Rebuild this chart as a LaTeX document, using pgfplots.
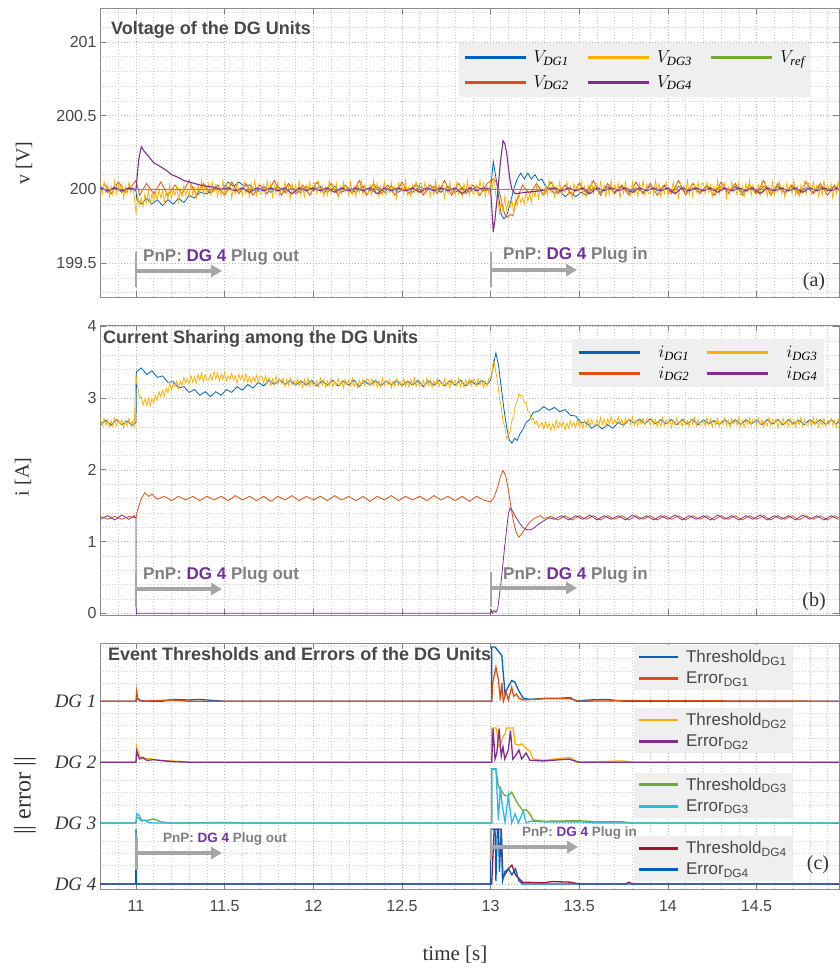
\documentclass[border=0pt]{standalone}
\usepackage{pgfplots}
\usepackage{pgfplotstable}
\pgfplotsset{compat=1.18}
\usepackage{fontspec}
\setmainfont{Liberation Serif}
\setsansfont{Liberation Sans}
\usetikzlibrary{arrows.meta}

\definecolor{mblue}{HTML}{0062BE}
\definecolor{morange}{HTML}{DD5014}
\definecolor{myellow}{HTML}{FBB000}
\definecolor{mpurple}{HTML}{7E2F8E}
\definecolor{mgreen}{HTML}{72AA2F}
\definecolor{mcyan}{HTML}{2DB6EE}
\definecolor{mred}{HTML}{A2142F}
\definecolor{agray}{HTML}{A6A6A6}
\definecolor{tgray}{HTML}{7F7F7F}
\definecolor{dgpurple}{HTML}{7030A0}
\definecolor{legfill}{HTML}{EFEFEF}

% ---------------- panel (a) data ----------------
\pgfplotstableread[row sep=\\]{t v\\
10.80 200.04\\10.81 199.97\\10.82 200.05\\10.83 199.98\\10.84 200.03\\10.85 199.95\\10.86 200.02\\10.87 199.96\\10.88 200.06\\10.89 199.97\\10.90 200.03\\10.91 199.99\\10.92 200.04\\10.93 199.94\\10.94 200.02\\10.95 199.97\\10.96 200.05\\10.97 199.98\\10.98 200.01\\10.99 199.96\\
11.00 199.84\\11.005 199.88\\11.01 199.96\\11.02 199.89\\11.03 199.94\\11.04 199.88\\11.05 199.97\\11.06 199.91\\11.07 200.00\\11.08 199.90\\11.09 199.97\\11.10 199.92\\11.11 199.99\\11.12 199.92\\11.13 200.00\\11.14 199.94\\11.15 199.99\\11.16 199.91\\11.17 199.98\\11.18 199.93\\11.19 200.03\\11.20 199.94\\11.21 200.00\\11.22 199.96\\11.23 200.02\\11.24 199.92\\11.25 200.00\\11.26 199.95\\11.27 200.03\\11.28 199.96\\11.29 200.00\\11.30 199.95\\11.31 200.04\\11.32 199.96\\11.33 200.01\\11.34 199.94\\11.35 200.03\\11.36 199.97\\11.37 200.06\\11.38 199.96\\11.39 200.03\\11.40 199.97\\
11.41 200.04\\11.42 199.97\\11.43 200.05\\11.44 199.98\\11.45 200.03\\11.46 199.95\\11.47 200.02\\11.48 199.96\\11.49 200.06\\11.50 199.97\\11.51 200.03\\11.52 199.99\\11.53 200.04\\11.54 199.94\\11.55 200.02\\11.56 199.97\\11.57 200.05\\11.58 199.98\\11.59 200.01\\11.60 199.96\\11.61 200.05\\11.62 199.97\\11.63 200.02\\11.64 199.95\\11.65 200.04\\11.66 199.98\\11.67 200.06\\11.68 199.96\\11.69 200.03\\11.70 199.97\\
11.71 199.97\\11.72 200.03\\11.73 199.96\\11.74 200.06\\11.75 199.98\\11.76 200.04\\11.77 199.95\\11.78 200.02\\11.79 199.97\\11.80 200.05\\11.81 199.96\\11.82 200.01\\11.83 199.98\\11.84 200.05\\11.85 199.97\\11.86 200.02\\11.87 199.94\\11.88 200.04\\11.89 199.99\\11.90 200.03\\11.91 199.97\\11.92 200.06\\11.93 199.96\\11.94 200.02\\11.95 199.95\\11.96 200.03\\11.97 199.98\\11.98 200.05\\11.99 199.97\\12.00 200.04\\
12.01 200.04\\12.02 199.97\\12.03 200.05\\12.04 199.98\\12.05 200.03\\12.06 199.95\\12.07 200.02\\12.08 199.96\\12.09 200.06\\12.10 199.97\\12.11 200.03\\12.12 199.99\\12.13 200.04\\12.14 199.94\\12.15 200.02\\12.16 199.97\\12.17 200.05\\12.18 199.98\\12.19 200.01\\12.20 199.96\\12.21 200.05\\12.22 199.97\\12.23 200.02\\12.24 199.95\\12.25 200.04\\12.26 199.98\\12.27 200.06\\12.28 199.96\\12.29 200.03\\12.30 199.97\\
12.31 199.97\\12.32 200.03\\12.33 199.96\\12.34 200.06\\12.35 199.98\\12.36 200.04\\12.37 199.95\\12.38 200.02\\12.39 199.97\\12.40 200.05\\12.41 199.96\\12.42 200.01\\12.43 199.98\\12.44 200.05\\12.45 199.97\\12.46 200.02\\12.47 199.94\\12.48 200.04\\12.49 199.99\\12.50 200.03\\12.51 199.97\\12.52 200.06\\12.53 199.96\\12.54 200.02\\12.55 199.95\\12.56 200.03\\12.57 199.98\\12.58 200.05\\12.59 199.97\\12.60 200.04\\
12.61 200.04\\12.62 199.97\\12.63 200.05\\12.64 199.98\\12.65 200.03\\12.66 199.95\\12.67 200.02\\12.68 199.96\\12.69 200.06\\12.70 199.97\\12.71 200.03\\12.72 199.99\\12.73 200.04\\12.74 199.94\\12.75 200.02\\12.76 199.97\\12.77 200.05\\12.78 199.98\\12.79 200.01\\12.80 199.96\\12.81 200.05\\12.82 199.97\\12.83 200.02\\12.84 199.95\\12.85 200.04\\12.86 199.98\\12.87 200.06\\12.88 199.96\\12.89 200.03\\12.90 199.97\\
12.91 199.97\\12.92 200.03\\12.93 199.96\\12.94 200.06\\12.95 199.98\\12.96 200.04\\12.97 199.95\\12.98 200.02\\12.99 199.97\\
13.00 200.05\\13.01 200.01\\13.02 200.08\\13.03 199.95\\13.04 199.95\\13.05 199.84\\13.06 199.91\\13.07 199.85\\13.08 199.95\\13.09 199.86\\13.10 199.92\\13.11 199.88\\13.12 199.93\\13.13 199.84\\13.14 199.93\\13.15 199.89\\13.16 199.97\\13.17 199.91\\13.18 199.94\\13.19 199.90\\13.20 199.99\\13.21 199.92\\13.22 199.97\\13.23 199.91\\13.24 200.00\\13.25 199.95\\13.26 200.03\\13.27 199.94\\13.28 200.01\\13.29 199.96\\
13.30 199.96\\13.31 200.03\\13.32 199.96\\13.33 200.06\\13.34 199.98\\13.35 200.04\\13.36 199.95\\13.37 200.02\\13.38 199.97\\13.39 200.05\\13.40 199.96\\13.41 200.01\\13.42 199.98\\13.43 200.05\\13.44 199.97\\13.45 200.02\\13.46 199.94\\13.47 200.04\\13.48 199.99\\13.49 200.03\\13.50 199.97\\13.51 200.06\\13.52 199.96\\13.53 200.02\\13.54 199.95\\13.55 200.03\\13.56 199.98\\13.57 200.05\\13.58 199.97\\13.59 200.04\\
13.60 200.04\\13.61 199.97\\13.62 200.05\\13.63 199.98\\13.64 200.03\\13.65 199.95\\13.66 200.02\\13.67 199.96\\13.68 200.06\\13.69 199.97\\13.70 200.03\\13.71 199.99\\13.72 200.04\\13.73 199.94\\13.74 200.02\\13.75 199.97\\13.76 200.05\\13.77 199.98\\13.78 200.01\\13.79 199.96\\13.80 200.05\\13.81 199.97\\13.82 200.02\\13.83 199.95\\13.84 200.04\\13.85 199.98\\13.86 200.06\\13.87 199.96\\13.88 200.03\\13.89 199.97\\
13.90 199.97\\13.91 200.03\\13.92 199.96\\13.93 200.06\\13.94 199.98\\13.95 200.04\\13.96 199.95\\13.97 200.02\\13.98 199.97\\13.99 200.05\\14.00 199.96\\14.01 200.01\\14.02 199.98\\14.03 200.05\\14.04 199.97\\14.05 200.02\\14.06 199.94\\14.07 200.04\\14.08 199.99\\14.09 200.03\\14.10 199.97\\14.11 200.06\\14.12 199.96\\14.13 200.02\\14.14 199.95\\14.15 200.03\\14.16 199.98\\14.17 200.05\\14.18 199.97\\14.19 200.04\\
14.20 200.04\\14.21 199.97\\14.22 200.05\\14.23 199.98\\14.24 200.03\\14.25 199.95\\14.26 200.02\\14.27 199.96\\14.28 200.06\\14.29 199.97\\14.30 200.03\\14.31 199.99\\14.32 200.04\\14.33 199.94\\14.34 200.02\\14.35 199.97\\14.36 200.05\\14.37 199.98\\14.38 200.01\\14.39 199.96\\14.40 200.05\\14.41 199.97\\14.42 200.02\\14.43 199.95\\14.44 200.04\\14.45 199.98\\14.46 200.06\\14.47 199.96\\14.48 200.03\\14.49 199.97\\
14.50 199.97\\14.51 200.03\\14.52 199.96\\14.53 200.06\\14.54 199.98\\14.55 200.04\\14.56 199.95\\14.57 200.02\\14.58 199.97\\14.59 200.05\\14.60 199.96\\14.61 200.01\\14.62 199.98\\14.63 200.05\\14.64 199.97\\14.65 200.02\\14.66 199.94\\14.67 200.04\\14.68 199.99\\14.69 200.03\\14.70 199.97\\14.71 200.06\\14.72 199.96\\14.73 200.02\\14.74 199.95\\14.75 200.03\\14.76 199.98\\14.77 200.05\\14.78 199.97\\14.79 200.04\\
14.80 200.04\\14.81 199.97\\14.82 200.05\\14.83 199.98\\14.84 200.03\\14.85 199.95\\14.86 200.02\\14.87 199.96\\14.88 200.06\\14.89 199.97\\14.90 200.03\\14.91 199.99\\14.92 200.04\\14.93 199.94\\14.94 200.02\\14.95 199.97\\14.96 200.05\\14.97 199.98\\
}\ya

\pgfplotstableread[row sep=\\]{t v\\
10.80 200.02\\10.84 199.98\\10.88 200.02\\10.92 199.98\\10.96 200.01\\11.00 199.99\\11.005 199.93\\11.03 199.90\\11.06 199.94\\11.09 199.90\\11.12 199.93\\11.15 199.89\\11.18 199.93\\11.21 199.90\\11.24 199.94\\11.27 199.91\\11.30 199.96\\11.33 199.94\\11.36 199.98\\11.40 199.97\\11.44 200.01\\11.48 199.99\\11.52 200.05\\11.55 200.02\\11.58 200.05\\11.61 200.02\\11.64 200.03\\11.68 199.98\\11.72 200.02\\11.76 199.98\\
11.80 200.02\\11.84 199.98\\11.88 200.01\\11.92 199.98\\11.96 200.02\\12.00 199.99\\12.04 200.02\\12.08 199.98\\12.12 200.02\\12.16 199.98\\12.20 200.01\\12.24 199.98\\12.28 200.02\\12.32 199.99\\12.36 200.02\\12.40 199.98\\12.44 200.02\\12.48 199.98\\12.52 200.01\\12.56 199.98\\12.60 200.02\\12.64 199.99\\12.68 200.02\\12.72 199.98\\12.76 200.02\\12.80 199.98\\12.84 200.01\\12.88 199.98\\12.92 200.02\\12.96 199.99\\
13.00 200.00\\13.015 200.19\\13.03 200.08\\13.045 199.95\\13.06 199.83\\13.075 199.80\\13.09 199.82\\13.11 199.90\\13.13 200.00\\13.15 200.07\\13.17 200.11\\13.19 200.07\\13.21 200.11\\13.23 200.07\\13.25 200.10\\13.27 200.06\\13.29 200.07\\13.31 200.02\\13.33 200.01\\13.36 199.97\\13.39 199.99\\13.42 199.95\\13.45 199.98\\13.48 199.95\\13.51 199.98\\13.54 199.96\\13.58 200.01\\13.62 199.98\\
13.66 200.02\\13.70 199.98\\13.74 200.02\\13.78 199.98\\13.82 200.01\\13.86 199.98\\13.90 200.02\\13.94 199.99\\13.98 200.02\\14.02 199.98\\14.06 200.02\\14.10 199.98\\14.14 200.01\\14.18 199.98\\14.22 200.02\\14.26 199.99\\14.30 200.02\\14.34 199.98\\14.38 200.02\\14.42 199.98\\14.46 200.01\\14.50 199.98\\14.54 200.02\\14.58 199.99\\14.62 200.02\\14.66 199.98\\14.70 200.02\\14.74 199.98\\14.78 200.01\\14.82 199.98\\14.86 200.02\\14.90 199.99\\14.94 200.02\\14.98 199.98\\
}\ba

\pgfplotstableread[row sep=\\]{t v\\
10.82 200.04\\10.86 199.97\\10.90 200.05\\10.94 199.98\\10.98 200.03\\11.00 200.06\\11.02 199.96\\11.06 200.04\\11.10 199.97\\11.14 200.05\\11.18 199.96\\11.22 200.03\\11.26 199.97\\11.30 200.06\\11.34 199.96\\11.38 200.04\\11.42 199.97\\11.46 200.03\\11.50 199.96\\11.54 200.05\\11.58 199.97\\11.62 200.04\\11.66 199.96\\11.70 200.03\\11.74 199.97\\11.78 200.06\\11.82 199.96\\11.86 200.04\\11.90 199.97\\11.94 200.03\\
11.98 199.96\\12.02 200.05\\12.06 199.97\\12.10 200.04\\12.14 199.96\\12.18 200.03\\12.22 199.97\\12.26 200.06\\12.30 199.96\\12.34 200.04\\12.38 199.97\\12.42 200.03\\12.46 199.96\\12.50 200.05\\12.54 199.97\\12.58 200.04\\12.62 199.96\\12.66 200.03\\12.70 199.97\\12.74 200.06\\12.78 199.96\\12.82 200.04\\12.86 199.97\\12.90 200.03\\12.94 199.96\\12.98 200.04\\
13.015 200.07\\13.035 200.05\\13.05 199.98\\13.065 199.90\\13.08 199.83\\13.095 199.81\\13.11 199.83\\13.125 199.82\\13.14 199.90\\13.16 199.97\\13.18 200.03\\13.22 199.97\\13.26 200.04\\13.30 199.96\\13.34 200.05\\13.38 199.97\\13.42 200.03\\13.46 199.96\\13.50 200.04\\13.54 199.97\\13.58 200.06\\13.62 199.96\\13.66 200.04\\13.70 199.97\\13.74 200.03\\13.78 199.96\\13.82 200.05\\13.86 199.97\\13.90 200.04\\13.94 199.96\\13.98 200.03\\
14.02 199.97\\14.06 200.06\\14.10 199.96\\14.14 200.04\\14.18 199.97\\14.22 200.03\\14.26 199.96\\14.30 200.05\\14.34 199.97\\14.38 200.04\\14.42 199.96\\14.46 200.03\\14.50 199.97\\14.54 200.06\\14.58 199.96\\14.62 200.04\\14.66 199.97\\14.70 200.03\\14.74 199.96\\14.78 200.05\\14.82 199.97\\14.86 200.04\\14.90 199.96\\14.94 200.03\\14.98 199.97\\
}\oa

\pgfplotstableread[row sep=\\]{t v\\
10.80 200.01\\10.84 199.99\\10.88 200.01\\10.92 199.99\\10.96 200.01\\11.00 200.00\\11.015 200.20\\11.03 200.29\\11.045 200.26\\11.06 200.24\\11.08 200.21\\11.10 200.18\\11.13 200.16\\11.17 200.13\\11.20 200.10\\11.24 200.08\\11.27 200.06\\11.30 200.05\\11.33 200.04\\11.36 200.03\\11.40 200.02\\11.44 200.015\\11.48 200.00\\11.52 200.01\\11.56 199.99\\11.60 200.01\\11.64 199.98\\11.68 200.01\\11.72 199.99\\
11.76 200.01\\11.80 199.99\\11.84 200.01\\11.88 199.97\\11.92 200.01\\11.96 199.99\\12.00 200.01\\12.04 199.99\\12.08 200.01\\12.12 199.98\\12.16 200.01\\12.20 199.99\\12.24 200.01\\12.28 199.99\\12.32 200.01\\12.36 199.97\\12.40 200.01\\12.44 199.99\\12.48 200.01\\12.52 199.99\\12.56 200.01\\12.60 199.98\\12.64 200.01\\12.68 199.99\\12.72 200.01\\12.76 199.99\\12.80 200.01\\12.84 199.97\\12.88 200.01\\12.92 199.99\\12.96 200.01\\
13.00 200.00\\13.008 199.85\\13.015 199.71\\13.025 199.80\\13.04 199.98\\13.055 200.18\\13.07 200.33\\13.08 200.31\\13.09 200.25\\13.10 200.15\\13.11 200.06\\13.12 200.00\\13.14 199.97\\13.17 199.975\\13.20 199.98\\13.24 199.985\\13.28 199.99\\13.32 200.00\\13.36 200.01\\13.40 199.99\\13.44 200.01\\13.48 199.99\\13.52 200.01\\13.56 199.97\\13.60 200.01\\13.64 199.99\\13.68 200.01\\13.72 199.99\\13.76 200.01\\13.80 199.98\\
13.84 200.01\\13.88 199.99\\13.92 200.01\\13.96 199.99\\14.00 200.01\\14.04 199.97\\14.08 200.01\\14.12 199.99\\14.16 200.01\\14.20 199.99\\14.24 200.01\\14.28 199.98\\14.32 200.01\\14.36 199.99\\14.40 200.01\\14.44 199.99\\14.48 200.01\\14.52 199.97\\14.56 200.01\\14.60 199.99\\14.64 200.01\\14.68 199.99\\14.72 200.01\\14.76 199.98\\14.80 200.01\\14.84 199.99\\14.88 200.01\\14.92 199.99\\14.96 200.01\\
}\pa

% ---------------- panel (b) data ----------------
\pgfplotstableread[row sep=\\]{t v\\
10.80 2.705\\10.81 2.615\\10.82 2.715\\10.83 2.625\\10.84 2.695\\10.85 2.595\\10.86 2.685\\10.87 2.605\\10.88 2.725\\10.89 2.615\\10.90 2.695\\10.91 2.635\\10.92 2.705\\10.93 2.585\\10.94 2.685\\10.95 2.615\\10.96 2.715\\10.97 2.625\\10.98 2.675\\10.99 2.605\\
11.00 3.35\\11.005 3.20\\11.01 3.16\\11.02 3.00\\11.03 3.02\\11.04 2.90\\11.05 2.99\\11.06 2.90\\11.07 3.00\\11.08 2.89\\11.09 2.995\\11.10 2.93\\11.11 3.04\\11.12 2.97\\11.13 3.09\\11.14 3.02\\11.15 3.11\\11.16 3.03\\11.17 3.14\\11.18 3.07\\11.19 3.21\\11.20 3.11\\11.21 3.21\\11.22 3.16\\11.23 3.24\\11.24 3.13\\11.25 3.24\\11.26 3.18\\11.27 3.29\\11.28 3.21\\11.29 3.27\\11.30 3.20\\11.31 3.32\\11.32 3.22\\11.33 3.30\\11.34 3.21\\11.35 3.33\\11.36 3.25\\11.37 3.35\\11.38 3.23\\11.39 3.33\\11.40 3.25\\
11.41 3.25\\11.42 3.33\\11.43 3.25\\11.44 3.37\\11.45 3.27\\11.46 3.35\\11.47 3.24\\11.48 3.33\\11.49 3.26\\11.50 3.36\\11.51 3.24\\11.52 3.31\\11.53 3.26\\11.54 3.35\\11.55 3.25\\11.56 3.31\\11.57 3.21\\11.58 3.33\\11.59 3.26\\11.60 3.32\\11.61 3.23\\11.62 3.34\\11.63 3.22\\11.64 3.30\\11.65 3.21\\11.66 3.30\\11.67 3.23\\11.68 3.32\\11.69 3.22\\11.70 3.31\\
11.71 3.30\\11.72 3.21\\11.73 3.31\\11.74 3.22\\11.75 3.29\\11.76 3.18\\11.77 3.27\\11.78 3.19\\11.79 3.31\\11.80 3.20\\11.81 3.27\\11.82 3.21\\11.83 3.28\\11.84 3.16\\11.85 3.26\\11.86 3.18\\11.87 3.28\\11.88 3.19\\11.89 3.24\\11.90 3.17\\11.91 3.27\\11.92 3.17\\11.93 3.24\\11.94 3.15\\11.95 3.26\\11.96 3.18\\11.97 3.28\\11.98 3.16\\11.99 3.25\\12.00 3.17\\
12.01 3.17\\12.02 3.25\\12.03 3.16\\12.04 3.28\\12.05 3.18\\12.06 3.26\\12.07 3.15\\12.08 3.24\\12.09 3.17\\12.10 3.27\\12.11 3.16\\12.12 3.23\\12.13 3.18\\12.14 3.27\\12.15 3.17\\12.16 3.24\\12.17 3.14\\12.18 3.26\\12.19 3.19\\12.20 3.25\\12.21 3.17\\12.22 3.28\\12.23 3.16\\12.24 3.24\\12.25 3.15\\12.26 3.25\\12.27 3.18\\12.28 3.27\\12.29 3.17\\12.30 3.26\\
12.31 3.26\\12.32 3.17\\12.33 3.27\\12.34 3.18\\12.35 3.25\\12.36 3.15\\12.37 3.24\\12.38 3.16\\12.39 3.28\\12.40 3.17\\12.41 3.25\\12.42 3.19\\12.43 3.26\\12.44 3.14\\12.45 3.24\\12.46 3.17\\12.47 3.27\\12.48 3.18\\12.49 3.23\\12.50 3.16\\12.51 3.27\\12.52 3.17\\12.53 3.24\\12.54 3.15\\12.55 3.26\\12.56 3.18\\12.57 3.28\\12.58 3.16\\12.59 3.25\\12.60 3.17\\
12.61 3.17\\12.62 3.25\\12.63 3.16\\12.64 3.28\\12.65 3.18\\12.66 3.26\\12.67 3.15\\12.68 3.24\\12.69 3.17\\12.70 3.27\\12.71 3.16\\12.72 3.23\\12.73 3.18\\12.74 3.27\\12.75 3.17\\12.76 3.24\\12.77 3.14\\12.78 3.26\\12.79 3.19\\12.80 3.25\\12.81 3.17\\12.82 3.28\\12.83 3.16\\12.84 3.24\\12.85 3.15\\12.86 3.25\\12.87 3.18\\12.88 3.27\\12.89 3.17\\12.90 3.26\\
12.91 3.26\\12.92 3.17\\12.93 3.27\\12.94 3.18\\12.95 3.25\\12.96 3.15\\12.97 3.24\\12.98 3.16\\12.99 3.28\\
13.00 3.28\\13.01 3.38\\13.015 3.53\\13.02 3.50\\13.03 3.36\\13.04 3.22\\13.05 2.99\\13.06 2.88\\13.07 2.67\\13.08 2.60\\13.09 2.43\\13.10 2.48\\13.11 2.53\\13.12 2.69\\13.13 2.74\\13.14 2.91\\13.15 2.95\\13.16 3.06\\13.17 3.03\\13.18 3.03\\13.19 2.94\\13.20 2.94\\13.21 2.82\\13.22 2.80\\13.23 2.70\\13.24 2.72\\13.25 2.64\\13.26 2.68\\13.27 2.59\\13.28 2.63\\
13.29 2.66\\13.30 2.57\\13.31 2.67\\13.32 2.58\\13.33 2.65\\13.34 2.55\\13.35 2.64\\13.36 2.57\\13.37 2.69\\13.38 2.58\\13.39 2.66\\13.40 2.60\\13.41 2.67\\13.42 2.55\\13.43 2.65\\13.44 2.58\\13.45 2.68\\13.46 2.61\\13.47 2.66\\13.48 2.59\\13.49 2.70\\13.50 2.60\\13.51 2.67\\13.52 2.58\\13.53 2.69\\13.54 2.61\\13.55 2.71\\13.56 2.61\\13.57 2.70\\13.58 2.62\\
13.59 2.62\\13.60 2.70\\13.61 2.61\\13.62 2.73\\13.63 2.63\\13.64 2.71\\13.65 2.60\\13.66 2.71\\13.67 2.64\\13.68 2.74\\13.69 2.63\\13.70 2.70\\13.71 2.65\\13.72 2.74\\13.73 2.64\\13.74 2.71\\13.75 2.61\\13.76 2.72\\13.77 2.65\\13.78 2.71\\13.79 2.63\\13.80 2.74\\13.81 2.62\\13.82 2.70\\13.83 2.61\\13.84 2.71\\13.85 2.64\\13.86 2.72\\13.87 2.62\\13.88 2.71\\
13.89 2.71\\13.90 2.62\\13.91 2.72\\13.92 2.63\\13.93 2.70\\13.94 2.60\\13.95 2.69\\13.96 2.61\\13.97 2.73\\13.98 2.62\\13.99 2.70\\14.00 2.64\\14.01 2.71\\14.02 2.59\\14.03 2.69\\14.04 2.62\\14.05 2.72\\14.06 2.63\\14.07 2.68\\14.08 2.61\\14.09 2.72\\14.10 2.62\\14.11 2.69\\14.12 2.60\\14.13 2.71\\14.14 2.63\\14.15 2.73\\14.16 2.61\\14.17 2.70\\14.18 2.62\\
14.19 2.62\\14.20 2.70\\14.21 2.61\\14.22 2.73\\14.23 2.63\\14.24 2.71\\14.25 2.60\\14.26 2.69\\14.27 2.62\\14.28 2.72\\14.29 2.61\\14.30 2.68\\14.31 2.63\\14.32 2.72\\14.33 2.62\\14.34 2.69\\14.35 2.59\\14.36 2.71\\14.37 2.64\\14.38 2.70\\14.39 2.62\\14.40 2.73\\14.41 2.61\\14.42 2.69\\14.43 2.60\\14.44 2.70\\14.45 2.63\\14.46 2.72\\14.47 2.62\\14.48 2.71\\
14.49 2.71\\14.50 2.62\\14.51 2.72\\14.52 2.63\\14.53 2.70\\14.54 2.60\\14.55 2.69\\14.56 2.61\\14.57 2.73\\14.58 2.62\\14.59 2.70\\14.60 2.64\\14.61 2.71\\14.62 2.59\\14.63 2.69\\14.64 2.62\\14.65 2.72\\14.66 2.63\\14.67 2.68\\14.68 2.61\\14.69 2.72\\14.70 2.62\\14.71 2.69\\14.72 2.60\\14.73 2.71\\14.74 2.63\\14.75 2.73\\14.76 2.61\\14.77 2.70\\14.78 2.62\\
14.79 2.62\\14.80 2.70\\14.81 2.61\\14.82 2.73\\14.83 2.63\\14.84 2.71\\14.85 2.60\\14.86 2.69\\14.87 2.62\\14.88 2.72\\14.89 2.61\\14.90 2.68\\14.91 2.63\\14.92 2.72\\14.93 2.62\\14.94 2.69\\14.95 2.59\\14.96 2.71\\14.97 2.64\\
}\yb

\pgfplotstableread[row sep=\\]{t v\\
10.80 2.63\\10.83 2.69\\10.86 2.62\\10.89 2.70\\10.92 2.63\\10.95 2.68\\10.98 2.62\\11.00 2.66\\11.003 3.37\\11.03 3.42\\11.06 3.33\\11.09 3.38\\11.12 3.29\\11.15 3.31\\11.18 3.22\\11.21 3.23\\11.24 3.14\\11.27 3.16\\11.30 3.08\\11.33 3.12\\11.36 3.04\\11.39 3.09\\11.42 3.02\\11.45 3.09\\11.48 3.04\\11.51 3.12\\11.54 3.08\\11.57 3.16\\11.60 3.11\\11.63 3.19\\11.66 3.14\\11.69 3.22\\11.72 3.17\\11.75 3.25\\11.78 3.19\\11.81 3.26\\11.84 3.19\\11.87 3.25\\11.90 3.18\\
11.93 3.24\\11.96 3.18\\11.99 3.25\\12.02 3.17\\12.05 3.24\\12.08 3.18\\12.11 3.25\\12.14 3.17\\12.17 3.24\\12.20 3.18\\12.23 3.25\\12.26 3.16\\12.29 3.24\\12.32 3.18\\12.35 3.25\\12.38 3.17\\12.41 3.24\\12.44 3.18\\12.47 3.25\\12.50 3.17\\12.53 3.24\\12.56 3.18\\12.59 3.25\\12.62 3.16\\12.65 3.24\\12.68 3.18\\12.71 3.25\\12.74 3.17\\12.77 3.24\\12.80 3.18\\12.83 3.25\\12.86 3.17\\12.89 3.24\\12.92 3.18\\12.95 3.25\\12.98 3.19\\
13.00 3.25\\13.015 3.45\\13.03 3.63\\13.045 3.45\\13.06 3.15\\13.075 2.85\\13.09 2.60\\13.105 2.42\\13.12 2.37\\13.135 2.44\\13.15 2.41\\13.165 2.50\\13.18 2.55\\13.20 2.66\\13.22 2.70\\13.24 2.80\\13.27 2.82\\13.30 2.88\\13.33 2.83\\13.36 2.87\\13.39 2.81\\13.42 2.84\\13.45 2.76\\13.48 2.75\\13.51 2.66\\13.54 2.66\\13.57 2.58\\13.60 2.63\\13.63 2.57\\13.66 2.63\\13.69 2.58\\13.72 2.66\\13.75 2.62\\13.78 2.70\\13.81 2.65\\13.84 2.71\\13.87 2.64\\13.90 2.71\\
13.93 2.64\\13.96 2.70\\13.99 2.64\\14.02 2.70\\14.05 2.63\\14.08 2.70\\14.11 2.64\\14.14 2.70\\14.17 2.63\\14.20 2.70\\14.23 2.64\\14.26 2.69\\14.29 2.63\\14.32 2.70\\14.35 2.64\\14.38 2.70\\14.41 2.63\\14.44 2.70\\14.47 2.64\\14.50 2.69\\14.53 2.63\\14.56 2.70\\14.59 2.64\\14.62 2.70\\14.65 2.63\\14.68 2.70\\14.71 2.64\\14.74 2.69\\14.77 2.63\\14.80 2.70\\14.83 2.64\\14.86 2.70\\14.89 2.63\\14.92 2.70\\14.95 2.64\\14.98 2.69\\
}\bb

\pgfplotstableread[row sep=\\]{t v\\
10.80 1.35\\10.84 1.31\\10.88 1.35\\10.92 1.31\\10.96 1.35\\11.00 1.33\\11.01 1.45\\11.03 1.60\\11.05 1.68\\11.07 1.63\\11.09 1.66\\11.12 1.59\\11.16 1.63\\11.20 1.57\\11.24 1.63\\11.28 1.58\\11.32 1.63\\11.36 1.57\\11.40 1.63\\11.44 1.58\\11.48 1.63\\11.52 1.57\\11.56 1.64\\11.60 1.58\\11.64 1.63\\11.68 1.57\\11.72 1.63\\11.76 1.56\\11.80 1.63\\11.84 1.58\\11.88 1.64\\11.92 1.57\\11.96 1.63\\
12.00 1.58\\12.04 1.63\\12.08 1.57\\12.12 1.64\\12.16 1.58\\12.20 1.63\\12.24 1.57\\12.28 1.63\\12.32 1.56\\12.36 1.63\\12.40 1.58\\12.44 1.64\\12.48 1.57\\12.52 1.63\\12.56 1.58\\12.60 1.63\\12.64 1.57\\12.68 1.64\\12.72 1.58\\12.76 1.63\\12.80 1.57\\12.84 1.63\\12.88 1.56\\12.92 1.63\\12.96 1.58\\
13.00 1.55\\13.02 1.62\\13.04 1.76\\13.055 1.90\\13.07 1.99\\13.085 1.92\\13.10 1.72\\13.115 1.48\\13.13 1.27\\13.145 1.12\\13.16 1.06\\13.18 1.12\\13.20 1.20\\13.22 1.27\\13.24 1.31\\13.26 1.34\\13.28 1.36\\13.30 1.32\\13.34 1.35\\13.38 1.30\\13.42 1.36\\13.46 1.30\\13.50 1.36\\13.54 1.31\\13.58 1.36\\13.62 1.30\\13.66 1.36\\13.70 1.31\\13.74 1.36\\13.78 1.30\\
13.82 1.36\\13.86 1.31\\13.90 1.36\\13.94 1.30\\13.98 1.36\\14.02 1.31\\14.06 1.36\\14.10 1.30\\14.14 1.36\\14.18 1.31\\14.22 1.36\\14.26 1.30\\14.30 1.36\\14.34 1.31\\14.38 1.36\\14.42 1.30\\14.46 1.36\\14.50 1.31\\14.54 1.36\\14.58 1.30\\14.62 1.36\\14.66 1.31\\14.70 1.36\\14.74 1.30\\14.78 1.36\\14.82 1.31\\14.86 1.36\\14.90 1.30\\14.94 1.36\\14.98 1.31\\
}\ob

\pgfplotstableread[row sep=\\]{t v\\
10.80 1.31\\10.84 1.36\\10.88 1.30\\10.92 1.37\\10.96 1.31\\10.99 1.36\\11.00 1.33\\11.001 0.00\\13.00 0.00\\13.005 0.04\\13.01 0.00\\13.02 0.04\\13.03 0.01\\13.04 0.06\\13.06 0.45\\13.08 0.95\\13.10 1.38\\13.11 1.47\\13.125 1.42\\13.14 1.35\\13.16 1.27\\13.18 1.20\\13.20 1.17\\13.22 1.16\\13.24 1.18\\13.27 1.24\\13.30 1.29\\13.33 1.33\\13.36 1.31\\13.40 1.36\\
13.44 1.30\\13.48 1.36\\13.52 1.31\\13.56 1.37\\13.60 1.30\\13.64 1.36\\13.68 1.31\\13.72 1.36\\13.76 1.30\\13.80 1.37\\13.84 1.31\\13.88 1.36\\13.92 1.30\\13.96 1.36\\14.00 1.31\\14.04 1.37\\14.08 1.30\\14.12 1.36\\14.16 1.31\\14.20 1.36\\14.24 1.30\\14.28 1.37\\14.32 1.31\\14.36 1.36\\14.40 1.30\\14.44 1.36\\14.48 1.31\\14.52 1.37\\14.56 1.30\\14.60 1.36\\
14.64 1.31\\14.68 1.36\\14.72 1.30\\14.76 1.37\\14.80 1.31\\14.84 1.36\\14.88 1.30\\14.92 1.36\\14.96 1.31\\
}\pb

\pgfplotsset{
  panel/.style={
    scale only axis, width=739pt, xmin=10.797, xmax=14.965,
    anchor=south west,
    axis line style={black!45, line width=0.9pt},
    tick style={black!50, line width=0.8pt},
    major tick length=6pt, minor tick length=0pt,
    tick align=inside,
    xtick={11,11.5,12,12.5,13,13.5,14,14.5},
    minor xtick={10.9,11.1,11.2,11.3,11.4,11.6,11.7,11.8,11.9,12.1,12.2,12.3,12.4,12.6,12.7,12.8,12.9,13.1,13.2,13.3,13.4,13.6,13.7,13.8,13.9,14.1,14.2,14.3,14.4,14.6,14.7,14.8,14.9},
    grid=both,
    major grid style={black!28, line width=0.5pt, dash pattern=on 1pt off 2pt},
    minor grid style={black!20, line width=0.5pt, dash pattern=on 1pt off 2pt},
    ticklabel style={font=\fontsize{16}{16}\selectfont\sffamily, text=black!72},
    legend cell align=left,
    clip=true,
  },
  noisy/.style={line width=0.8pt, no markers, forget plot},
  smooth/.style={line width=1.3pt, no markers, forget plot},
}

\begin{document}
\begin{tikzpicture}
\path[use as bounding box] (0pt,0pt) rectangle (840pt,969pt);

% ================= panel (a) =================
\begin{axis}[panel, at={(100pt,672pt)}, height=289pt,
  ymin=199.27, ymax=201.23,
  ytick={199.5,200,200.5,201}, yticklabels={199.5,200,200.5,201},
  minor ytick={199.3,199.4,199.6,199.7,199.8,199.9,200.1,200.2,200.3,200.4,200.6,200.7,200.8,200.9,201.1,201.2},
  xticklabels={},
  legend columns=3,
  legend style={at={(rel axis cs:0.4858,0.879)}, anchor=north west, fill=legfill, draw=none,
    font=\fontsize{18}{20}\selectfont, inner xsep=4pt, inner ysep=6pt, row sep=7pt,
    /tikz/column 2/.style={column sep=16pt}, /tikz/column 4/.style={column sep=16pt}},
  legend image code/.code={\draw[#1, line width=3pt] (0pt,0pt) -- (61pt,0pt); \path[draw=none] (61pt,0pt) -- (67pt,0pt);},
]
\addplot[noisy, mblue] table[x=t,y=v] {\ba};
\addplot[noisy, morange] table[x=t,y=v] {\oa};
\addplot[noisy, myellow, line width=0.75pt] table[x=t,y=v] {\ya};
\addplot[noisy, mpurple, line width=1.1pt] table[x=t,y=v] {\pa};
\addplot[smooth, mgreen, line width=1.5pt] coordinates {(10.797,200) (14.97,200)};
\addlegendimage{mblue}\addlegendentry{$V_{\mathit{DG1}}$}
\addlegendimage{myellow}\addlegendentry{$V_{\mathit{DG3}}$}
\addlegendimage{mgreen}\addlegendentry{$V_{\mathit{ref}}$}
\addlegendimage{morange}\addlegendentry{$V_{\mathit{DG2}}$}
\addlegendimage{mpurple}\addlegendentry{$V_{\mathit{DG4}}$}
\end{axis}

% ================= panel (b) =================
\begin{axis}[panel, at={(100pt,354pt)}, height=290pt,
  ymin=-0.025, ymax=4.02,
  ytick={0,1,2,3,4}, yticklabels={0,1,2,3,4},
  minor ytick={0.2,0.4,0.6,0.8,1.2,1.4,1.6,1.8,2.2,2.4,2.6,2.8,3.2,3.4,3.6,3.8},
  xticklabels={},
  legend columns=2,
  legend style={at={(rel axis cs:0.6387,0.952)}, anchor=north west, fill=legfill, draw=none,
    font=\fontsize{18}{19}\selectfont, inner xsep=5pt, inner ysep=5pt, row sep=4pt,
    /tikz/column 2/.style={column sep=14pt}},
  legend image code/.code={\draw[#1, line width=2.6pt] (0pt,0pt) -- (61pt,0pt); \path[draw=none] (61pt,0pt) -- (78pt,0pt);},
]
\addplot[noisy, morange] table[x=t,y=v] {\ob};
\addplot[noisy, mpurple] table[x=t,y=v] {\pb};
\addplot[noisy, mblue] table[x=t,y=v] {\bb};
\addplot[noisy, myellow, line width=0.75pt] table[x=t,y=v] {\yb};
\addlegendimage{mblue}\addlegendentry{$i_{\mathit{DG1}}$}
\addlegendimage{myellow}\addlegendentry{$i_{\mathit{DG3}}$}
\addlegendimage{morange}\addlegendentry{$i_{\mathit{DG2}}$}
\addlegendimage{mpurple}\addlegendentry{$i_{\mathit{DG4}}$}
\end{axis}

% ================= panel (c) =================
\begin{axis}[panel, at={(100pt,80pt)}, height=246pt,
  ymin=-0.082, ymax=3.956,
  ytick={0,1,2,3}, yticklabels={DG 4,DG 3,DG 2,DG 1},
  yticklabel style={font=\fontsize{19}{19}\selectfont\rmfamily\itshape, text=black!80},
  xticklabel style={yshift=-8pt},
  minor ytick={0.3,0.5,0.7,1.3,1.5,1.7,2.2,2.4,2.6,2.8,3.3,3.5,3.7,3.9},
  xticklabels={11,11.5,12,12.5,13,13.5,14,14.5},
]
\addplot[smooth, mblue] coordinates {(10.797,3) (11.0,3) (11.005,3.06) (11.02,3.02) (11.05,3.0) (11.15,3.0) (11.2,3.03) (11.3,3.02) (11.35,3.03) (11.45,3.01) (11.5,3.0) (13.006,3.0) (13.007,3.89) (13.025,3.89) (13.044,3.82) (13.063,3.75) (13.081,3.13) (13.10,3.24) (13.119,3.34) (13.138,3.31) (13.157,3.18) (13.184,3.05) (13.222,3.03) (13.316,3.05) (13.40,3.05) (13.448,3.06) (13.485,3.0) (13.55,3.02) (13.654,3.03) (13.75,3.0) (14.97,3.0)};
\addplot[smooth, morange] coordinates {(10.797,3) (11.0,3) (11.004,3.16) (11.01,3.03) (11.03,3.0) (11.2,3.02) (11.3,3.0) (13.006,3.0) (13.012,3.3) (13.03,3.56) (13.044,3.35) (13.055,3.02) (13.063,3.3) (13.072,3.0) (13.088,3.15) (13.10,3.02) (13.119,3.23) (13.13,3.08) (13.145,3.12) (13.16,3.05) (13.184,3.02) (13.3,3.04) (13.45,3.04) (13.5,3.0) (13.8,3.01) (14.97,3.0)};
\addplot[smooth, myellow] coordinates {(10.797,2) (11.0,2) (11.004,2.25) (11.02,2.1) (11.04,2.05) (11.08,2.06) (11.12,2.03) (11.2,2.02) (11.3,2.0) (13.006,2.0) (13.007,2.56) (13.033,2.56) (13.044,2.25) (13.055,2.28) (13.072,2.43) (13.081,2.46) (13.09,2.56) (13.128,2.56) (13.138,2.3) (13.157,2.28) (13.176,2.3) (13.20,2.22) (13.222,2.18) (13.24,2.05) (13.3,2.03) (13.448,2.08) (13.485,2.0) (13.75,2.02) (13.8,2.0) (14.97,2.0)};
\addplot[smooth, mpurple] coordinates {(10.797,2) (11.0,2) (11.004,2.18) (11.02,2.05) (11.04,2.08) (11.06,2.03) (11.1,2.04) (11.2,2.01) (11.3,2.0) (13.006,2.0) (13.014,2.55) (13.025,2.05) (13.035,2.15) (13.048,2.55) (13.06,2.1) (13.07,2.25) (13.08,2.05) (13.10,2.2) (13.112,2.52) (13.125,2.05) (13.14,2.1) (13.16,2.2) (13.175,2.05) (13.20,2.15) (13.222,2.03) (13.3,2.02) (13.44,2.05) (13.5,2.0) (14.97,2.0)};
\addplot[smooth, mgreen] coordinates {(10.797,1) (11.0,1) (11.004,1.1) (11.03,1.05) (11.06,1.04) (11.1,1.07) (11.14,1.02) (11.2,1.0) (11.5,1.01) (11.6,1.0) (13.006,1.0) (13.007,1.89) (13.03,1.89) (13.044,1.6) (13.063,1.52) (13.081,1.45) (13.10,1.45) (13.119,1.51) (13.138,1.4) (13.157,1.3) (13.184,1.2) (13.2,1.22) (13.222,1.15) (13.24,1.05) (13.3,1.03) (13.5,1.04) (13.6,1.02) (13.75,1.02) (13.8,1.0) (14.97,1.0)};
\addplot[smooth, mcyan] coordinates {(10.797,1) (11.0,1) (11.003,1.16) (11.02,1.12) (11.03,1.03) (11.05,1.05) (11.07,1.01) (11.1,1.0) (13.006,1.0) (13.007,1.89) (13.03,1.89) (13.044,1.05) (13.055,1.6) (13.063,1.35) (13.081,1.02) (13.10,1.45) (13.119,1.0) (13.138,1.15) (13.157,1.0) (13.184,1.2) (13.2,1.0) (13.222,1.03) (13.3,1.02) (13.5,1.02) (13.6,1.0) (14.97,1.0)};
\addplot[smooth, mred] coordinates {(10.797,0) (13.006,0) (13.02,0.9) (13.06,0.9) (13.07,0.1) (13.10,0.25) (13.12,0.31) (13.14,0.15) (13.18,0.03) (13.3,0.02) (13.35,0.04) (13.45,0.03) (13.5,0.0) (13.76,0.0) (13.78,0.03) (13.8,0.0) (14.97,0)};
\addplot[smooth, mblue] coordinates {(10.797,0) (10.999,0) (11.0,0.9) (11.001,0) (12.999,0) (13.0,0.9) (13.025,0.9) (13.03,0.05) (13.038,0.9) (13.045,0.9) (13.05,0.2) (13.06,0.9) (13.067,0.05) (13.08,0.2) (13.1,0.25) (13.12,0.15) (13.14,0.25) (13.16,0.05) (13.18,0.0) (14.97,0)};
\end{axis}

% overlay legends of panel (c)
\pgfplotsset{cleg/.style={scale only axis, width=739pt, height=246pt, at={(100pt,80pt)}, anchor=south west,
  xmin=10.797, xmax=14.965, ymin=-0.082, ymax=3.956, hide axis,
  legend cell align=left,
  legend style={anchor=north west, fill=legfill, draw=none, font=\fontsize{17}{18}\selectfont\sffamily,
    text=black!72, inner xsep=4pt, inner ysep=3pt, row sep=4pt},
  legend image code/.code={\draw[##1, line width=2.6pt] (0pt,0pt) -- (39pt,0pt); \path[draw=none] (39pt,0pt) -- (45pt,0pt);}}}
\begin{axis}[cleg, legend style={at={(rel axis cs:0.722,0.992)}}]
\addlegendimage{mblue}\addlegendentry{Threshold\textsubscript{DG1}}
\addlegendimage{morange}\addlegendentry{Error\textsubscript{DG1}}
\end{axis}
\begin{axis}[cleg, legend style={at={(rel axis cs:0.722,0.736)}}]
\addlegendimage{myellow}\addlegendentry{Threshold\textsubscript{DG2}}
\addlegendimage{mpurple}\addlegendentry{Error\textsubscript{DG2}}
\end{axis}
\begin{axis}[cleg, legend style={at={(rel axis cs:0.722,0.473)}}]
\addlegendimage{mgreen}\addlegendentry{Threshold\textsubscript{DG3}}
\addlegendimage{mcyan}\addlegendentry{Error\textsubscript{DG3}}
\end{axis}
\begin{axis}[cleg, legend style={at={(rel axis cs:0.722,0.215)}}]
\addlegendimage{mred}\addlegendentry{Threshold\textsubscript{DG4}}
\addlegendimage{mblue}\addlegendentry{Error\textsubscript{DG4}}
\end{axis}

% ---------------- labels ----------------
\node[rotate=90, font=\fontsize{20}{20}\selectfont, text=black!80] at (24pt,806pt) {v [V]};
\node[rotate=90, font=\fontsize{20}{20}\selectfont, text=black!80] at (23pt,492pt) {i [A]};
\node[rotate=90, font=\fontsize{24}{24}\selectfont, text=black!80] at (25pt,173pt) {|| error ||};
\node[font=\fontsize{21}{21}\selectfont, text=black!80] at (455pt,14pt) {time [s]};

\node[anchor=west, inner sep=0pt, font=\fontsize{18}{18}\selectfont\sffamily\bfseries, text=black!72] at (111pt,939pt) {Voltage of the DG Units};
\node[anchor=west, inner sep=0pt, font=\fontsize{18}{18}\selectfont\sffamily\bfseries, text=black!72] at (103pt,630pt) {Current Sharing among the DG Units};
\node[anchor=west, inner sep=0pt, font=\fontsize{18}{18}\selectfont\sffamily\bfseries, text=black!72] at (108pt,315pt) {Event Thresholds and Errors of the DG Units};

\node[font=\fontsize{20}{20}\selectfont, text=black!80] at (814pt,687pt) {(a)};
\node[font=\fontsize{20}{20}\selectfont, text=black!80] at (814pt,367pt) {(b)};
\node[font=\fontsize{20}{20}\selectfont, text=black!80] at (818pt,104pt) {(c)};

% ---------------- PnP annotations ----------------
\tikzset{bar/.style={agray, line width=2.6pt}, arr/.style={agray, line width=4pt, -{Triangle[length=11pt,width=12pt]}}}
% (a)
\draw[bar] (136pt,682pt) -- (136pt,717pt);
\draw[arr] (136pt,698pt) -- (222pt,698pt);
\node[anchor=west, inner sep=0pt, font=\fontsize{17}{17}\selectfont\sffamily\bfseries, text=tgray] at (143pt,712pt) {PnP: \textcolor{dgpurple}{DG 4} Plug out};
\draw[bar] (491pt,682pt) -- (491pt,717pt);
\draw[arr] (491pt,699pt) -- (577pt,699pt);
\node[anchor=west, inner sep=0pt, font=\fontsize{17}{17}\selectfont\sffamily\bfseries, text=tgray] at (503pt,714pt) {PnP: \textcolor{dgpurple}{DG 4} Plug in};
% (b)
\draw[bar] (136pt,362pt) -- (136pt,397pt);
\draw[arr] (136pt,380pt) -- (222pt,380pt);
\node[anchor=west, inner sep=0pt, font=\fontsize{17}{17}\selectfont\sffamily\bfseries, text=tgray] at (143pt,394pt) {PnP: \textcolor{dgpurple}{DG 4} Plug out};
\draw[bar] (491pt,362pt) -- (491pt,397pt);
\draw[arr] (491pt,381pt) -- (577pt,381pt);
\node[anchor=west, inner sep=0pt, font=\fontsize{17}{17}\selectfont\sffamily\bfseries, text=tgray] at (503pt,394pt) {PnP: \textcolor{dgpurple}{DG 4} Plug in};
% (c)
\draw[bar] (136.5pt,99pt) -- (136.5pt,132pt);
\draw[arr] (136.5pt,116pt) -- (222pt,116pt);
\node[anchor=west, inner sep=0pt, font=\fontsize{13.5}{13.5}\selectfont\sffamily\bfseries, text=tgray] at (163pt,130pt) {PnP: \textcolor{dgpurple}{DG 4} Plug out};
\draw[bar] (491pt,109pt) -- (491pt,141pt);
\draw[arr] (491pt,122pt) -- (578pt,122pt);
\node[anchor=west, inner sep=0pt, font=\fontsize{13.5}{13.5}\selectfont\sffamily\bfseries, text=tgray] at (522pt,136pt) {PnP: \textcolor{dgpurple}{DG 4} Plug in};
\end{tikzpicture}
\end{document}
